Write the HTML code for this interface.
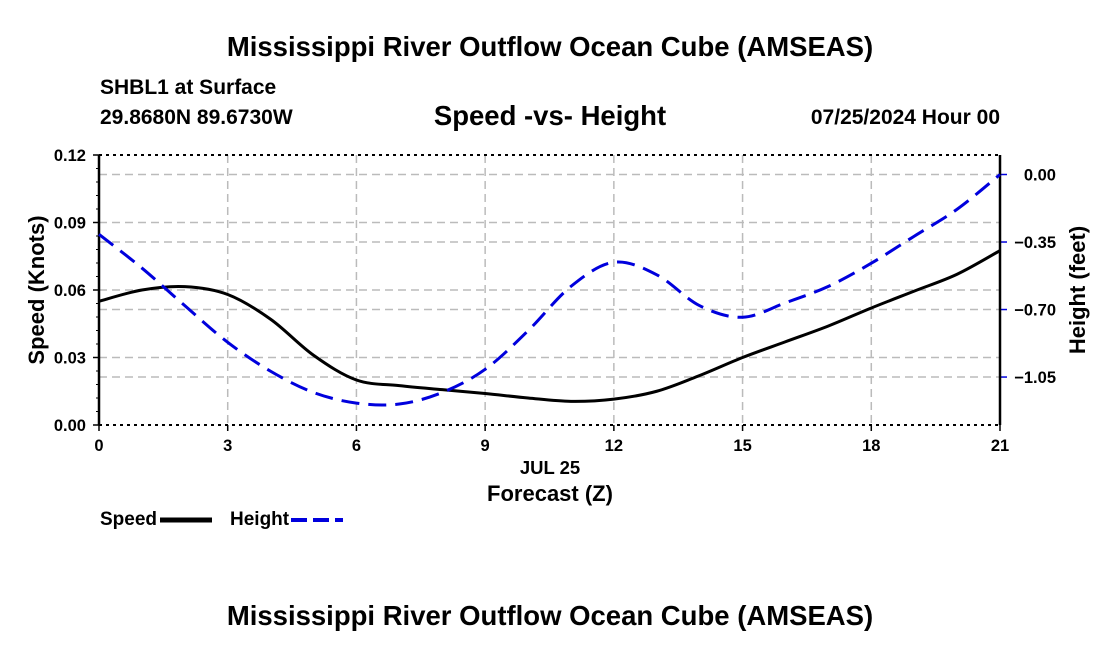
<!DOCTYPE html>
<html><head><meta charset="utf-8"><style>
body{margin:0;background:#fff}
svg text{font-family:"Liberation Sans",sans-serif;font-weight:bold;fill:#000}
</style></head><body>
<svg id="chart" width="1100" height="650" viewBox="0 0 1100 650" xmlns="http://www.w3.org/2000/svg">
<text x="550" y="56" font-size="27.5" text-anchor="middle">Mississippi River Outflow Ocean Cube (AMSEAS)</text>
<text x="100" y="94" font-size="21">SHBL1 at Surface</text>
<text x="100" y="124" font-size="21">29.8680N  89.6730W</text>
<text x="550" y="125" font-size="27.5" text-anchor="middle">Speed -vs- Height</text>
<text x="1000" y="124" font-size="21" text-anchor="end">07/25/2024 Hour 00</text>
<g id="grid"></g>
<g id="axes"></g>
<g id="series"></g>
<text transform="translate(44,290) rotate(-90)" font-size="22" text-anchor="middle">Speed (Knots)</text>
<text transform="translate(1085,290) rotate(-90)" font-size="22" text-anchor="middle">Height (feet)</text>
<text x="550" y="474" font-size="18.5" text-anchor="middle">JUL 25</text>
<text x="550" y="501" font-size="22" text-anchor="middle">Forecast (Z)</text>
<g><text x="100" y="525" font-size="19">Speed</text><line x1="160" y1="520" x2="212" y2="520" stroke="#000" stroke-width="5"/></g>
<g><text x="230" y="525" font-size="19">Height</text><line x1="291" y1="520" x2="343" y2="520" stroke="#0000dd" stroke-width="4" stroke-dasharray="16,6"/></g>
<text x="550" y="625" font-size="27.5" text-anchor="middle">Mississippi River Outflow Ocean Cube (AMSEAS)</text>
</svg>
<script>
const hours=[0,1,2,3,4,5,6,7,8,9,10,11,12,13,14,15,16,17,18,19,20,21];
const speed=[0.055,0.060,0.0615,0.058,0.047,0.031,0.020,0.0175,0.0157,0.014,0.012,0.0105,0.0115,0.015,0.022,0.030,0.037,0.044,0.052,0.0595,0.067,0.0775];
const height=[-0.31,-0.485,-0.68,-0.87,-1.02,-1.13,-1.185,-1.19,-1.13,-1.01,-0.81,-0.58,-0.455,-0.52,-0.68,-0.74,-0.665,-0.58,-0.46,-0.32,-0.18,0.0];
const xTicks=[0,3,6,9,12,15,18,21];
const yTicks=[0,0.03,0.06,0.09,0.12];
const y2Ticks=[0,-0.35,-0.70,-1.05];
const L=99,R=1000,T=155,B=425;
const X=h=>L+(h/21)*(R-L);
const Y=v=>B-(v/0.12)*(B-T);
const Y2=v=>174.5-v*192.9;
const NS="http://www.w3.org/2000/svg";
function mk(tag,attrs,parent){const e=document.createElementNS(NS,tag);for(const k in attrs)e.setAttribute(k,attrs[k]);parent.appendChild(e);return e;}
const grid=document.getElementById('grid'),axes=document.getElementById('axes'),series=document.getElementById('series');
xTicks.forEach(t=>{if(t>0&&t<21){const l=mk('line',{x1:X(t),x2:X(t),y1:T,y2:B,stroke:'#bbb','stroke-width':1.5,'stroke-dasharray':'8,5'},grid);

}
const tx=mk('text',{x:X(t),y:B+26,'font-size':16.5,'text-anchor':'middle'},axes);tx.textContent=t;


mk('line',{x1:X(t),x2:X(t),y1:B,y2:B+6,stroke:'#000','stroke-width':1.5},axes);});
yTicks.forEach(t=>{if(t>0&&t<0.12){const l=mk('line',{x1:L,x2:R,y1:Y(t),y2:Y(t),stroke:'#bbb','stroke-width':1.5,'stroke-dasharray':'8,5'},grid);

}
const tx=mk('text',{x:L-13,y:Y(t)+6,'font-size':16.5,'text-anchor':'end'},axes);tx.textContent=t.toFixed(2);


mk('line',{x1:L-6,x2:L,y1:Y(t),y2:Y(t),stroke:'#000','stroke-width':1.5},axes);});
for(let v=0;v<=0.12;v+=0.006){mk('line',{x1:L-3,x2:L,y1:Y(v),y2:Y(v),stroke:'#000','stroke-width':1},axes);}
y2Ticks.forEach(t=>{const l=mk('line',{x1:L,x2:R,y1:Y2(t),y2:Y2(t),stroke:'#bbb','stroke-width':1.5,'stroke-dasharray':'8,5'},grid);


mk('line',{x1:R,x2:R+7,y1:Y2(t),y2:Y2(t),stroke:'#0000dd','stroke-width':1.5},axes);
const tx=mk('text',{x:1056,y:Y2(t)+6,'font-size':16.5,'text-anchor':'end'},axes);tx.textContent=t===0?'0.00':'\u2212'+Math.abs(t).toFixed(2);

});
mk('line',{x1:L,x2:R,y1:T,y2:T,stroke:'#000','stroke-width':2,'stroke-dasharray':'3,4'},axes);
mk('line',{x1:L,x2:R,y1:B,y2:B,stroke:'#000','stroke-width':2,'stroke-dasharray':'3,4'},axes);
mk('line',{x1:L,x2:L,y1:T,y2:B,stroke:'#000','stroke-width':2.5},axes);
mk('line',{x1:R,x2:R,y1:T,y2:B,stroke:'#000','stroke-width':2.5},axes);
function path(pts){let d='M'+pts[0][0]+','+pts[0][1];for(let i=0;i<pts.length-1;i++){const p0=pts[Math.max(0,i-1)],p1=pts[i],p2=pts[i+1],p3=pts[Math.min(pts.length-1,i+2)];
d+=' C'+(p1[0]+(p2[0]-p0[0])/6)+','+(p1[1]+(p2[1]-p0[1])/6)+' '+(p2[0]-(p3[0]-p1[0])/6)+','+(p2[1]-(p3[1]-p1[1])/6)+' '+p2[0]+','+p2[1];}return d;}
const sp=mk('path',{d:path(hours.map((h,i)=>[X(h),Y(speed[i])])),fill:'none',stroke:'#000','stroke-width':3},series);


const hp=mk('path',{d:path(hours.map((h,i)=>[X(h),Y2(height[i])])),fill:'none',stroke:'#0000dd','stroke-width':3,'stroke-dasharray':'18,9'},series);


</script>
</body></html>
